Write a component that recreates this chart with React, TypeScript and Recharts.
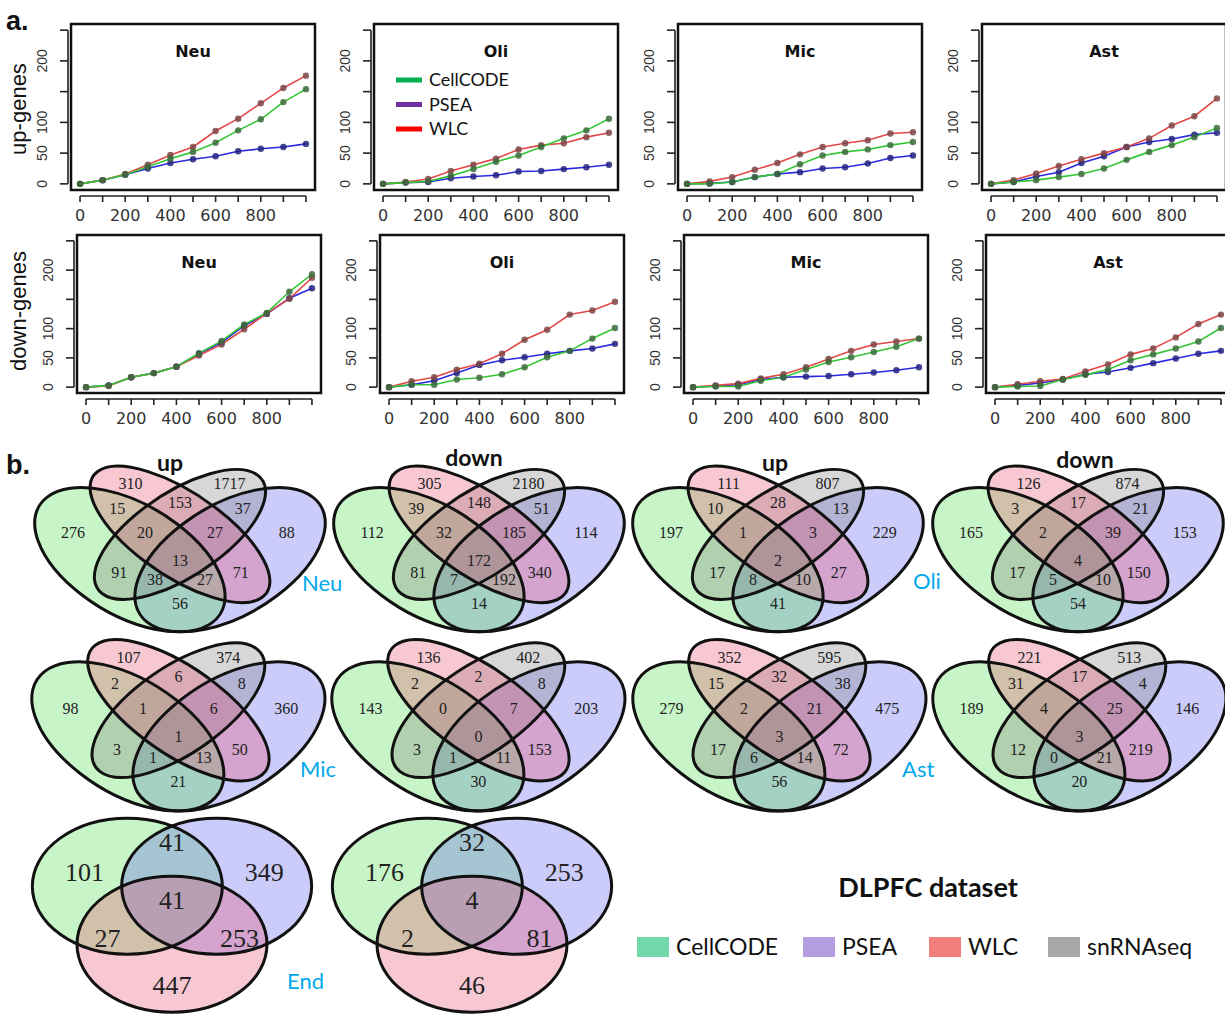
import React from "react";
import { LineChart, Line, XAxis, YAxis, ReferenceArea, ReferenceLine, ScatterChart, Scatter } from "recharts";

// ---- panel a: number of genes vs. top-N ----
const steps = [0, 100, 200, 300, 400, 500, 600, 700, 800, 900, 1000];
const yTicks = [0, 50, 100, 150, 200, 250];
const cellTypes = ["Neu", "Oli", "Mic", "Ast"];

const upNeuCellCODE = [0, 6, 15, 28, 41, 52, 67, 87, 105, 133, 154];
const upNeuPSEA = [0, 6, 15, 25, 34, 40, 45, 53, 57, 60, 65];
const upNeuWLC = [0, 6, 16, 31, 47, 60, 86, 106, 131, 156, 176];

const upOliCellCODE = [0, 2, 4, 13, 24, 36, 46, 60, 74, 87, 106];
const upOliPSEA = [0, 2, 3, 9, 12, 14, 20, 21, 24, 27, 31];
const upOliWLC = [0, 3, 8, 21, 31, 41, 56, 63, 66, 76, 83];

const upMicCellCODE = [0, 0, 3, 11, 16, 32, 46, 52, 56, 63, 68];
const upMicPSEA = [0, 1, 3, 11, 16, 19, 25, 27, 33, 42, 46];
const upMicWLC = [0, 4, 11, 23, 34, 48, 60, 66, 71, 82, 84];

const upAstCellCODE = [0, 3, 6, 11, 16, 25, 39, 52, 63, 76, 91];
const upAstPSEA = [0, 3, 12, 19, 34, 45, 60, 68, 73, 80, 83];
const upAstWLC = [0, 6, 17, 29, 40, 50, 60, 74, 95, 110, 139];

const downNeuCellCODE = [0, 3, 17, 24, 35, 58, 79, 107, 127, 163, 193];
const downNeuPSEA = [0, 3, 17, 24, 35, 57, 76, 105, 125, 152, 169];
const downNeuWLC = [0, 2, 17, 24, 35, 54, 73, 99, 126, 151, 187];

const downOliCellCODE = [0, 4, 4, 13, 16, 22, 34, 51, 62, 83, 101];
const downOliPSEA = [0, 4, 11, 24, 38, 46, 51, 57, 62, 66, 74];
const downOliWLC = [0, 10, 17, 30, 40, 57, 81, 98, 124, 131, 146];

const downMicCellCODE = [0, 1, 1, 11, 17, 30, 43, 51, 60, 69, 83];
const downMicPSEA = [0, 2, 4, 13, 17, 18, 19, 22, 25, 29, 34];
const downMicWLC = [0, 3, 6, 15, 22, 34, 48, 62, 73, 78, 83];

const downAstCellCODE = [0, 1, 2, 13, 21, 30, 46, 56, 66, 78, 101];
const downAstPSEA = [0, 3, 7, 13, 22, 26, 33, 41, 49, 57, 62];
const downAstWLC = [0, 5, 10, 14, 27, 39, 56, 66, 85, 108, 124];

const upSeries = [
  [upNeuCellCODE, upNeuPSEA, upNeuWLC],
  [upOliCellCODE, upOliPSEA, upOliWLC],
  [upMicCellCODE, upMicPSEA, upMicWLC],
  [upAstCellCODE, upAstPSEA, upAstWLC],
];
const downSeries = [
  [downNeuCellCODE, downNeuPSEA, downNeuWLC],
  [downOliCellCODE, downOliPSEA, downOliWLC],
  [downMicCellCODE, downMicPSEA, downMicWLC],
  [downAstCellCODE, downAstPSEA, downAstWLC],
];

// ---- panel b: overlaps (regions: A=CellCODE, B=WLC, C=snRNAseq, D=PSEA) ----
const quadRegions = ["A", "B", "C", "D", "AB", "BC", "CD", "ABC", "BCD", "ABCD", "AC", "ACD", "ABD", "BD", "AD"];
const neuUpVenn = [276, 310, 1717, 88, 15, 153, 37, 20, 27, 13, 91, 38, 27, 71, 56];
const neuDownVenn = [112, 305, 2180, 114, 39, 148, 51, 32, 185, 172, 81, 7, 192, 340, 14];
const oliUpVenn = [197, 111, 807, 229, 10, 28, 13, 1, 3, 2, 17, 8, 10, 27, 41];
const oliDownVenn = [165, 126, 874, 153, 3, 17, 21, 2, 39, 4, 17, 5, 10, 150, 54];
const micUpVenn = [98, 107, 374, 360, 2, 6, 8, 1, 6, 1, 3, 1, 13, 50, 21];
const micDownVenn = [143, 136, 402, 203, 2, 2, 8, 0, 7, 0, 3, 1, 11, 153, 30];
const astUpVenn = [279, 352, 595, 475, 15, 32, 38, 2, 21, 3, 17, 6, 14, 72, 56];
const astDownVenn = [189, 221, 513, 146, 31, 17, 4, 4, 25, 3, 12, 0, 21, 219, 20];

const triRegions = ["A", "D", "B", "AD", "AB", "BD", "ABD"];
const endUpVenn = [101, 349, 447, 41, 27, 253, 41];
const endDownVenn = [176, 253, 46, 32, 2, 81, 4];

const methods = ["CellCODE", "PSEA", "WLC", "snRNAseq"];

// ---- styles / layout templates ----
const lineColor = { CellCODE: "#35c635", PSEA: "#2a2ae0", WLC: "#e24848" };
const dotColor = { CellCODE: "#3d6b3d", PSEA: "#23237f", WLC: "#7c4646" };

// VennDiagram-style 4 ellipse template (unit square), in drawing order
const quadShapes = [
  { x: 0.65, y: 0.47, a: 0.35, b: 0.2, rot: 45, fill: "#5555ee" },
  { x: 0.35, y: 0.47, a: 0.35, b: 0.2, rot: 135, fill: "#48de48" },
  { x: 0.5, y: 0.57, a: 0.33, b: 0.15, rot: 45, fill: "#7a7a7a" },
  { x: 0.5, y: 0.57, a: 0.35, b: 0.15, rot: 135, fill: "#e84869" },
];
const quadLabelPos: Record<string, [number, number]> = {
  A: [0.18, 0.577], B: [0.352, 0.773], C: [0.648, 0.773], D: [0.82, 0.577],
  AB: [0.312, 0.672], BC: [0.5, 0.698], CD: [0.688, 0.672],
  ABC: [0.395, 0.578], BCD: [0.605, 0.578], ABCD: [0.5, 0.468],
  AC: [0.318, 0.419], ACD: [0.425, 0.39], ABD: [0.575, 0.39], BD: [0.682, 0.419], AD: [0.5, 0.298],
};
// 3 circle template (unit radius)
const triShapes = [
  { x: -0.47, y: 0.206, a: 1, b: 1, fill: "#48de48" },
  { x: 0.47, y: 0.206, a: 1, b: 1, fill: "#5555ee" },
  { x: 0, y: -0.647, a: 1, b: 1, fill: "#e84869" },
];
const triLabelPos: Record<string, [number, number]> = {
  A: [-0.92, 0.41], D: [0.97, 0.41], B: [0, -1.25], AD: [0, 0.85], AB: [-0.68, -0.56], BD: [0.71, -0.56], ABD: [0, 0],
};

const rows = [
  { top: 24, h: 166, lefts: [71, 374, 678, 982], series: upSeries },
  { top: 235, h: 158, lefts: [77, 380, 684, 986], series: downSeries },
];
const PW = 244;

function XTick(props: any) {
  const { x, y, payload } = props;
  const v = payload.value;
  return (
    <g>
      <line x1={x} y1={y + 6} x2={x} y2={y + 12} stroke="#222" strokeWidth={1.6} />
      {v % 200 === 0 && v < 1000 ? (
        <text x={x} y={y + 31} textAnchor="middle" fontFamily="DejaVu Sans" fontSize={16} fill="#333">
          {v}
        </text>
      ) : null}
    </g>
  );
}

function YTick(props: any) {
  const { x, y, payload } = props;
  const v = payload.value;
  return (
    <g>
      <line x1={x - 3} y1={y} x2={x - 11} y2={y} stroke="#222" strokeWidth={1.6} />
      {v === 150 || v === 250 ? null : (
        <text transform={`translate(${x - 24},${y}) rotate(-90)`} textAnchor="middle" fontFamily="Liberation Sans" fontSize={14} fill="#333">
          {v}
        </text>
      )}
    </g>
  );
}

function Panel({ left, top, h, series }: any) {
  const ML = 70, MB = 45, MT = 4, MR = 6;
  const data = steps.map((s, i) => ({ x: s, CellCODE: series[0][i], PSEA: series[1][i], WLC: series[2][i] }));
  const ppx = PW / 1080, ppy = h / 270;
  return (
    <div style={{ position: "absolute", left: left - ML, top: top - MT }}>
      <LineChart width={PW + ML + MR} height={h + MT + MB} data={data} margin={{ top: MT, right: MR, left: 0, bottom: 0 }}>
        <XAxis dataKey="x" type="number" domain={[-40, 1040]} ticks={steps} interval={0} height={MB}
          axisLine={false} tickLine={false} tickSize={0} tickMargin={0} tick={(p: any) => <XTick {...p} />} />
        <YAxis type="number" domain={[-10, 260]} ticks={yTicks} interval={0} width={ML}
          axisLine={false} tickLine={false} tickSize={0} tickMargin={0} tick={(p: any) => <YTick {...p} />} />
        <ReferenceArea x1={-40} x2={1040} y1={-10} y2={260} ifOverflow="visible" fill="none" stroke="#111" strokeWidth={2.5} />
        <ReferenceLine segment={[{ x: -40 - 3 / ppx, y: 0 }, { x: -40 - 3 / ppx, y: 250 }]} ifOverflow="visible" stroke="#222" strokeWidth={1.6} />
        <ReferenceLine segment={[{ x: 0, y: -10 - 6 / ppy }, { x: 1000, y: -10 - 6 / ppy }]} ifOverflow="visible" stroke="#222" strokeWidth={1.6} />
        {(["PSEA", "WLC", "CellCODE"] as const).map((k) => (
          <Line key={k} dataKey={k} type="linear" stroke={lineColor[k]} strokeWidth={1.6}
            dot={{ r: 3.2, fill: dotColor[k], stroke: "none", fillOpacity: 0.85 }} isAnimationActive={false} />
        ))}
      </LineChart>
    </div>
  );
}

function EllipseMark(props: any) {
  const { cx, cy, payload, sx, sy, mode } = props;
  return (
    <ellipse cx={0} cy={0} rx={payload.a} ry={payload.b}
      transform={`translate(${cx},${cy}) scale(${sx},${-sy}) rotate(${payload.rot || 0})`}
      fill={mode === "fill" ? payload.fill : "none"} fillOpacity={0.3}
      stroke={mode === "stroke" ? "#111" : "none"} strokeWidth={3} vectorEffect="non-scaling-stroke" />
  );
}

function Venn4({ cx, cy, sx, sy, counts }: any) {
  const x0 = 0.03, x1 = 0.97, y0 = 0.15, y1 = 0.88;
  const W = (x1 - x0) * sx, H = (y1 - y0) * sy;
  const labels = quadRegions.map((r, i) => ({ x: quadLabelPos[r][0], y: quadLabelPos[r][1], v: counts[i] }));
  return (
    <div style={{ position: "absolute", left: cx - (0.5 - x0) * sx, top: cy - (y1 - 0.5) * sy }}>
      <ScatterChart width={W} height={H} margin={{ top: 0, right: 0, left: 0, bottom: 0 }}>
        <XAxis type="number" dataKey="x" domain={[x0, x1]} hide />
        <YAxis type="number" dataKey="y" domain={[y0, y1]} hide />
        <Scatter data={quadShapes} isAnimationActive={false} shape={(p: any) => <EllipseMark {...p} sx={sx} sy={sy} mode="fill" />} />
        <Scatter data={quadShapes} isAnimationActive={false} shape={(p: any) => <EllipseMark {...p} sx={sx} sy={sy} mode="stroke" />} />
        <Scatter data={labels} isAnimationActive={false} shape={(p: any) => (
          <text x={p.cx} y={p.cy} textAnchor="middle" dominantBaseline="central" fontFamily="Liberation Serif" fontSize={16} fill="#222">
            {p.payload.v}
          </text>
        )} />
      </ScatterChart>
    </div>
  );
}

function Venn3({ cx, cy, sx, sy, counts }: any) {
  const x0 = -1.6, x1 = 1.6, y0 = -1.8, y1 = 1.4;
  const W = (x1 - x0) * sx, H = (y1 - y0) * sy;
  const labels = triRegions.map((r, i) => ({ x: triLabelPos[r][0], y: triLabelPos[r][1], v: counts[i] }));
  return (
    <div style={{ position: "absolute", left: cx + x0 * sx, top: cy - y1 * sy }}>
      <ScatterChart width={W} height={H} margin={{ top: 0, right: 0, left: 0, bottom: 0 }}>
        <XAxis type="number" dataKey="x" domain={[x0, x1]} hide />
        <YAxis type="number" dataKey="y" domain={[y0, y1]} hide />
        <Scatter data={triShapes} isAnimationActive={false} shape={(p: any) => <EllipseMark {...p} sx={sx} sy={sy} mode="fill" />} />
        <Scatter data={triShapes} isAnimationActive={false} shape={(p: any) => <EllipseMark {...p} sx={sx} sy={sy} mode="stroke" />} />
        <Scatter data={labels} isAnimationActive={false} shape={(p: any) => (
          <text x={p.cx} y={p.cy} textAnchor="middle" dominantBaseline="central" fontFamily="Liberation Serif" fontSize={26} fill="#222">
            {p.payload.v}
          </text>
        )} />
      </ScatterChart>
    </div>
  );
}

const cyan = "#00a9ec";
const legendSwatch = ["#72d9aa", "#b49ee0", "#f27d7d", "#a8a8a8"];

export default function App() {
  const vennRows = [
    { cy: 552, sx: 334, sy: 253, cxs: [180, 479, 778, 1078], sets: [neuUpVenn, neuDownVenn, oliUpVenn, oliDownVenn] },
    { cy: 729, sx: 337, sy: 262, cxs: [178, 478, 779, 1079], sets: [micUpVenn, micDownVenn, astUpVenn, astDownVenn] },
  ];
  return (
    <div style={{ position: "absolute", left: 0, top: 0, width: 1225, height: 1016, background: "#fff", overflow: "hidden" }}>
      {rows.map((row, ri) =>
        row.lefts.map((l, ci) => <Panel key={`${ri}-${ci}`} left={l} top={row.top} h={row.h} series={row.series[ci]} />)
      )}
      {vennRows.map((vr, ri) =>
        vr.cxs.map((cx, ci) => <Venn4 key={`v${ri}-${ci}`} cx={cx} cy={vr.cy} sx={vr.sx} sy={vr.sy} counts={vr.sets[ci]} />)
      )}
      <Venn3 cx={172} cy={900} sx={95} sy={68} counts={endUpVenn} />
      <Venn3 cx={472} cy={900} sx={95} sy={68} counts={endDownVenn} />

      <svg width={1225} height={1016} style={{ position: "absolute", left: 0, top: 0, pointerEvents: "none" }}>
        <text x={6} y={30} fontFamily="Liberation Sans" fontWeight="bold" fontSize={27} fill="#111">a.</text>
        <text x={6} y={474} fontFamily="Liberation Sans" fontWeight="bold" fontSize={27} fill="#111">b.</text>
        <text transform="translate(26,109) rotate(-90)" textAnchor="middle" fontFamily="Liberation Sans" fontSize={22} fill="#111">up-genes</text>
        <text transform="translate(26,311) rotate(-90)" textAnchor="middle" fontFamily="Liberation Sans" fontSize={22} fill="#111">down-genes</text>
        {rows.map((row, ri) =>
          row.lefts.map((l, ci) => (
            <text key={`t${ri}-${ci}`} x={l + PW / 2} y={row.top + 33} textAnchor="middle" fontFamily="DejaVu Sans" fontWeight="bold" fontSize={16} fill="#111">
              {cellTypes[ci]}
            </text>
          ))
        )}
        {/* legend inside Oli panel */}
        {(["CellCODE", "PSEA", "WLC"] as const).map((m, i) => (
          <g key={m}>
            <line x1={396} x2={422} y1={80 + i * 24.5} y2={80 + i * 24.5} stroke={["#00b050", "#7030a0", "#ff0000"][i]} strokeWidth={5} />
            <text x={429} y={86 + i * 24.5} fontFamily="Lato" fontSize={18} fill="#111">{m}</text>
          </g>
        ))}
        {["up", "down", "up", "down"].map((t, i) => (
          <text key={`h${i}`} x={[170, 474, 775, 1085][i]} y={[471, 466, 471, 468][i]} textAnchor="middle" fontFamily="Lato" fontWeight="bold" fontSize={23} fill="#111">{t}</text>
        ))}
        {[["Neu", 302, 591], ["Oli", 913, 589], ["Mic", 300, 777], ["Ast", 902, 777], ["End", 287, 989]].map(([t, x, y]) => (
          <text key={t as string} x={x as number} y={y as number} fontFamily="Lato" fontSize={22} fill={cyan}>{t}</text>
        ))}
        <text x={928} y={897} textAnchor="middle" fontFamily="Lato" fontWeight="bold" fontSize={27} fill="#111">DLPFC dataset</text>
        {methods.map((m, i) => {
          const x = [637, 803, 929, 1048][i];
          return (
            <g key={m}>
              <rect x={x} y={937} width={32} height={20} fill={legendSwatch[i]} />
              <text x={x + 39} y={955} fontFamily="Lato" fontSize={23} fill="#111">{m}</text>
            </g>
          );
        })}
      </svg>
    </div>
  );
}
